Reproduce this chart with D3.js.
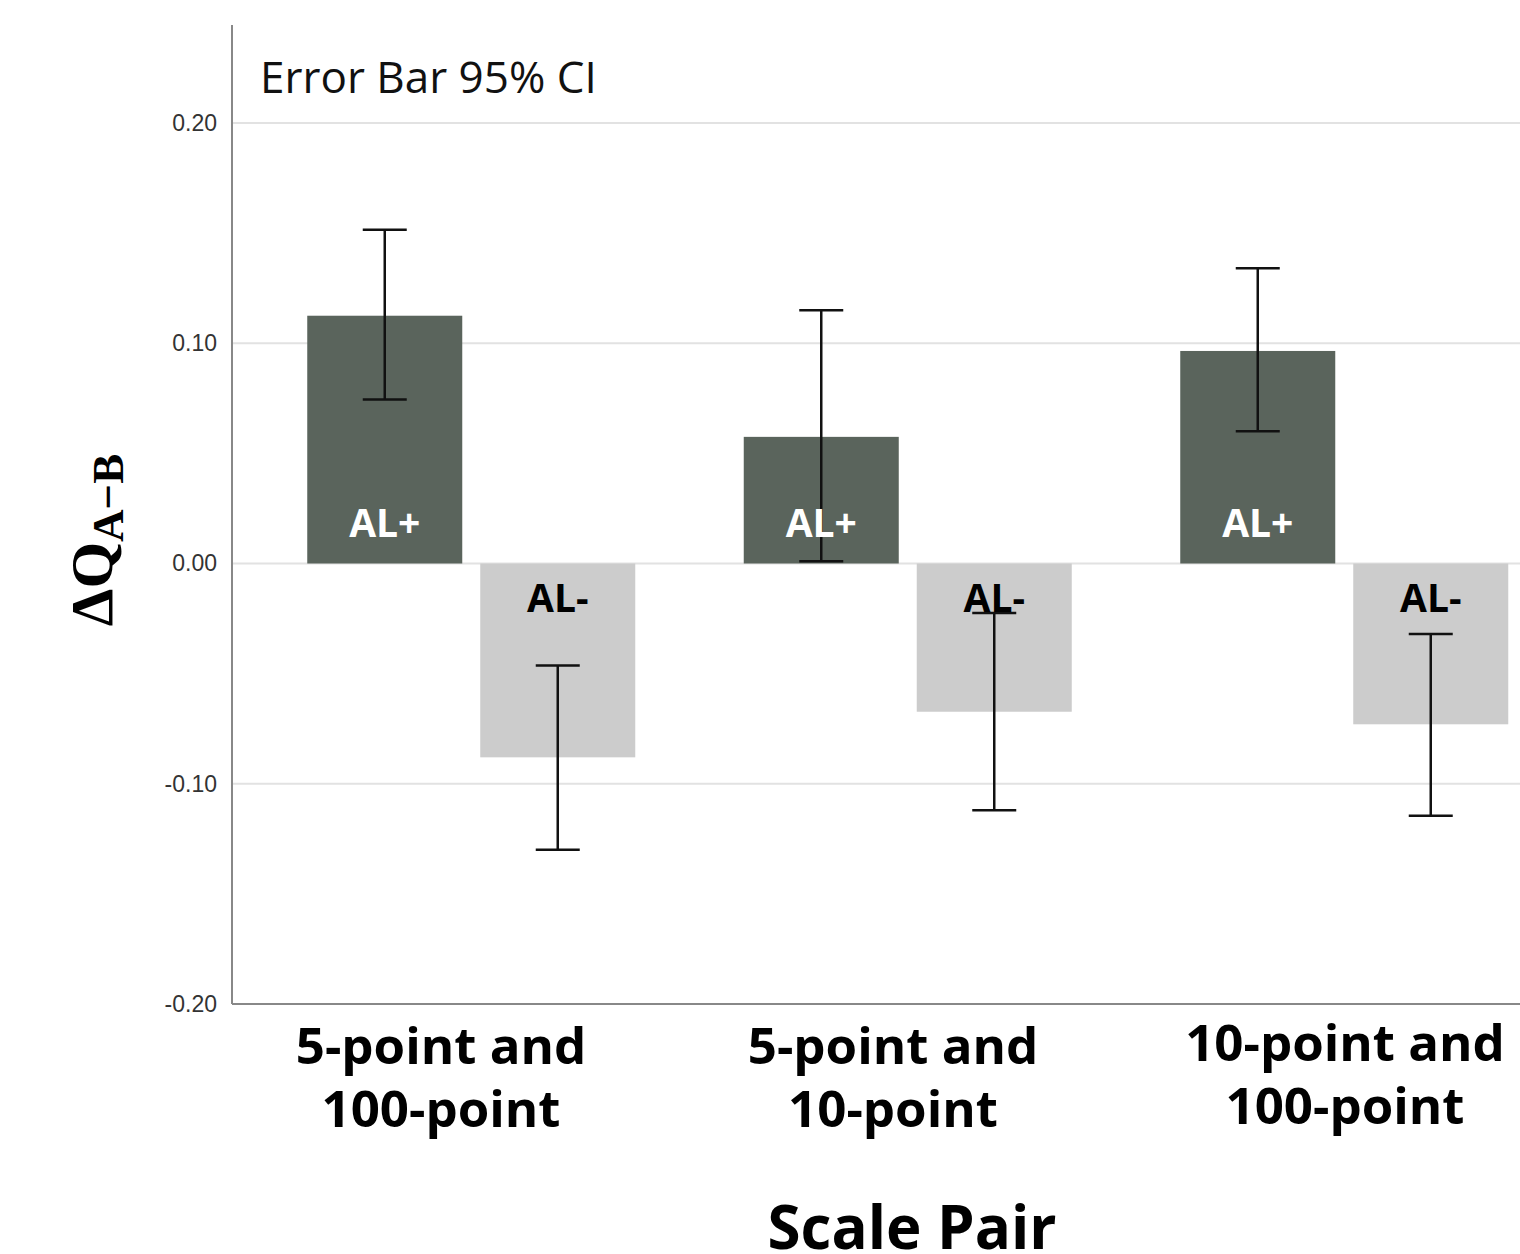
<!DOCTYPE html>
<html>
<head>
<meta charset="utf-8">
<script src="https://cdn.jsdelivr.net/npm/d3@7"></script>
<style>
  body { margin: 0; background: #fff; }
  svg { display: block; }
</style>
</head>
<body>
<div id="chart"></div>
<script>
const categories = [["5-point and", "100-point"], ["5-point and", "10-point"], ["10-point and", "100-point"]]
const groups = ["AL+", "AL-"]
const means = [[0.1125, -0.0880], [0.0575, -0.0673], [0.0965, -0.0730]]
const ciLow = [[0.0745, -0.1300], [0.0010, -0.1120], [0.0600, -0.1145]]
const ciHigh = [[0.1515, -0.0463], [0.1150, -0.0225], [0.1340, -0.0320]]
const yTicks = [-0.20, -0.10, 0.00, 0.10, 0.20]

document.addEventListener("DOMContentLoaded", draw)

function draw() {
    const width = 1520
    const height = 1254
    const margin = {top: 25, left: 232}

    const svg = d3.select("#chart").append("svg")
        .attr("width", width)
        .attr("height", height)

    const y = d3.scaleLinear()
        .domain([-0.20, 0.2445])
        .range([1004, margin.top])

    const x = d3.scaleBand()
        .domain(d3.range(categories.length))
        .range([253, 253 + 3 * 436.5])

    const inner = d3.scaleBand()
        .domain(groups)
        .range([54.25, 382.25])
        .paddingInner(0.104)

    // category labels sit a little left of the band centres, as in SPSS output
    const labelX = d3.scalePoint()
        .domain(d3.range(categories.length))
        .range([441, 1345])

    // gridlines
    svg.append("g")
        .selectAll("line")
        .data(yTicks)
        .enter()
        .append("line")
        .attr("x1", margin.left)
        .attr("x2", width)
        .attr("y1", d => y(d))
        .attr("y2", d => y(d))
        .attr("stroke", "#e2e2e2")
        .attr("stroke-width", 2)

    // y axis
    const yAxis = svg.append("g")
        .attr("transform", `translate(${margin.left},0)`)
        .call(d3.axisLeft(y).tickValues(yTicks)
            .tickFormat(d => d3.format(".2f")(d).replace("−", "-"))
            .tickSize(0).tickPadding(15))
    yAxis.select(".domain").remove()
    yAxis.selectAll("text")
        .attr("font-family", "Liberation Sans, Arial, sans-serif")
        .attr("font-size", 23)
        .attr("fill", "#333")

    // axis lines
    svg.append("line")
        .attr("x1", margin.left).attr("x2", margin.left)
        .attr("y1", margin.top).attr("y2", y(-0.20))
        .attr("stroke", "#888").attr("stroke-width", 2)
    svg.append("line")
        .attr("x1", margin.left).attr("x2", width)
        .attr("y1", y(-0.20)).attr("y2", y(-0.20))
        .attr("stroke", "#888").attr("stroke-width", 2)

    const rows = []
    categories.forEach((c, i) => {
        groups.forEach((g, j) => {
            rows.push({cat: i, group: g, mean: means[i][j], lo: ciLow[i][j], hi: ciHigh[i][j]})
        })
    })

    const color = d3.scaleOrdinal().domain(groups).range(["#5a645c", "#cccccc"])

    // bars
    svg.append("g")
        .selectAll("rect")
        .data(rows)
        .enter()
        .append("rect")
        .attr("x", d => x(d.cat) + inner(d.group))
        .attr("width", inner.bandwidth())
        .attr("y", d => y(Math.max(0, d.mean)))
        .attr("height", d => Math.abs(y(d.mean) - y(0)))
        .attr("fill", d => color(d.group))

    // error bars
    const err = svg.append("g").attr("stroke", "#111").attr("stroke-width", 2.5)
    rows.forEach(d => {
        const cx = x(d.cat) + inner(d.group) + inner.bandwidth() / 2
        err.append("line")
            .attr("x1", cx).attr("x2", cx)
            .attr("y1", y(d.hi)).attr("y2", y(d.lo))
        ;[d.hi, d.lo].forEach(v => {
            err.append("line")
                .attr("x1", cx - 22).attr("x2", cx + 22)
                .attr("y1", y(v)).attr("y2", y(v))
        })
    })

    // bar labels
    svg.append("g")
        .selectAll("text")
        .data(rows)
        .enter()
        .append("text")
        .attr("x", d => x(d.cat) + inner(d.group) + inner.bandwidth() / 2)
        .attr("y", d => d.group === "AL+" ? 537 : 612)
        .attr("text-anchor", "middle")
        .attr("font-family", "Open Sans, Noto Sans, sans-serif")
        .attr("font-weight", "bold")
        .attr("font-size", 39)
        .attr("fill", d => d.group === "AL+" ? "#fff" : "#000")
        .text(d => d.group)

    // category labels
    const catLabels = svg.append("g")
        .selectAll("text")
        .data(categories)
        .enter()
        .append("text")
        .attr("x", (d, i) => labelX(i))
        .attr("y", (d, i) => i === 2 ? 1061 : 1064)
        .attr("text-anchor", "middle")
        .attr("font-family", "Open Sans, Noto Sans, sans-serif")
        .attr("font-weight", "bold")
        .attr("font-size", 51)
        .attr("fill", "#000")
    catLabels.each(function (d) {
        const t = d3.select(this)
        d.forEach((line, k) => {
            t.append("tspan")
                .attr("x", t.attr("x"))
                .attr("dy", k === 0 ? 0 : 63)
                .text(line)
        })
    })

    // x axis title
    svg.append("text")
        .attr("x", 912)
        .attr("y", 1249)
        .attr("text-anchor", "middle")
        .attr("font-family", "Open Sans, Noto Sans, sans-serif")
        .attr("font-weight", "bold")
        .attr("font-size", 60)
        .attr("fill", "#000")
        .text("Scale Pair")

    // y axis title
    const yTitle = svg.append("text")
        .attr("transform", "translate(112,540) rotate(-90)")
        .attr("text-anchor", "middle")
        .attr("font-family", "Liberation Serif, Times New Roman, serif")
        .attr("font-weight", "bold")
        .attr("font-size", 60)
        .attr("fill", "#000")
    yTitle.append("tspan").text("ΔQ")
    yTitle.append("tspan").attr("font-size", 45).attr("dy", 11).text("A−B")

    // annotation
    svg.append("text")
        .attr("x", 260)
        .attr("y", 93)
        .attr("font-family", "Open Sans, Noto Sans, sans-serif")
        .attr("font-size", 44)
        .attr("fill", "#111")
        .text("Error Bar 95% CI")
}
</script>
</body>
</html>
